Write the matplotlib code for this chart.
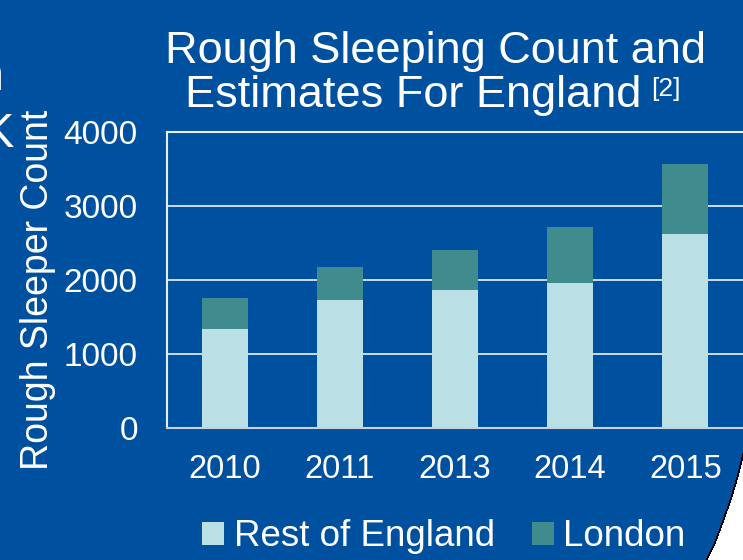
import numpy as np
import matplotlib.pyplot as plt

# values
years = ['2010', '2011', '2013', '2014', '2015']
rest_of_england = [1335, 1725, 1860, 1960, 2615]
london = [425, 450, 550, 755, 955]

plt.rcParams['font.family'] = ['Liberation Sans', 'DejaVu Sans']

W, H = 743, 560
bg = '#0050A0'
light = '#BADFE4'
teal = '#3F8B8D'

fig = plt.figure(figsize=(W / 100, H / 100), dpi=100, facecolor=bg)
ax = fig.add_axes([167 / W, (H - 428) / H, 576 / W, 296 / H])
ax.set_facecolor(bg)

x = np.arange(len(years))
ax.bar(x, rest_of_england, 0.4, color=light, label='Rest of England', zorder=2)
ax.bar(x, london, 0.4, bottom=rest_of_england, color=teal, label='London', zorder=2)

ax.set_xlim(-0.5, 4.5)
ax.set_ylim(0, 4000)
ax.set_xticks(x)
ax.set_xticklabels(years)
ax.set_yticks(np.arange(0, 4001, 1000))
ax.yaxis.grid(True, color='#DCE6F0', lw=1.3)
ax.set_axisbelow(True)

for s in ['left', 'top']:
    ax.spines[s].set_color('#E6EEF6')
    ax.spines[s].set_linewidth(1.5)
ax.spines['bottom'].set_color('#C8D2DC')
ax.spines['bottom'].set_linewidth(1.5)
ax.spines['right'].set_visible(False)

ax.tick_params(axis='both', length=0, colors='white')
ax.tick_params(axis='y', pad=21, labelsize=24)
ax.tick_params(axis='x', pad=19, labelsize=23.5)

fig.text(38 / W, 1 - 290 / H, 'Rough Sleeper Count', rotation=90,
         ha='center', va='center', color='white', fontsize=27)

# title
fig.text(436 / W, 1 - 63 / H, 'Rough Sleeping Count and', ha='center',
         va='baseline', color='white', fontsize=32.5)
fig.text(185 / W, 1 - 107 / H, 'Estimates For England', ha='left',
         va='baseline', color='white', fontsize=32.5)
fig.text(651 / W, 1 - 96 / H, '[2]', ha='left', va='baseline',
         color='white', fontsize=19)

# cut-off text at the left edge of the slide
fig.text(4 / W, 1 - 90 / H, 'n', ha='right', va='baseline', color='white', fontsize=35)
fig.text(14 / W, 1 - 147 / H, 'K', ha='right', va='baseline', color='white', fontsize=35)

fig.legend(loc='center', bbox_to_anchor=(444 / W, 1 - 537 / H), ncol=2,
           frameon=False, fontsize=26.5, labelcolor='white',
           handlelength=0.6, handleheight=0.6, handletextpad=0.26,
           columnspacing=1.0, borderaxespad=0)

# white corner of the slide, bottom right, painted as a pixel mask
edge_y = [450, 475, 498, 521, 542, 560]
edge_x = [744, 738, 731, 723, 715, 706]
rows = np.arange(H)
bx = np.interp(rows, edge_y, edge_x, left=W + 10, right=edge_x[-1])
cols = np.arange(W)[None, :]
d = cols - bx[:, None]
corner = np.zeros((H, W, 4))
corner[d > 0] = [1, 1, 1, 1]
corner[(d > -1.5) & (d <= 0.5)] = [0, 0, 0, 1]
corner[rows < edge_y[0]] = 0
fig.figimage(corner, 0, 0, origin='upper', zorder=10)

fig.savefig('out.png', dpi=100, facecolor=bg)
